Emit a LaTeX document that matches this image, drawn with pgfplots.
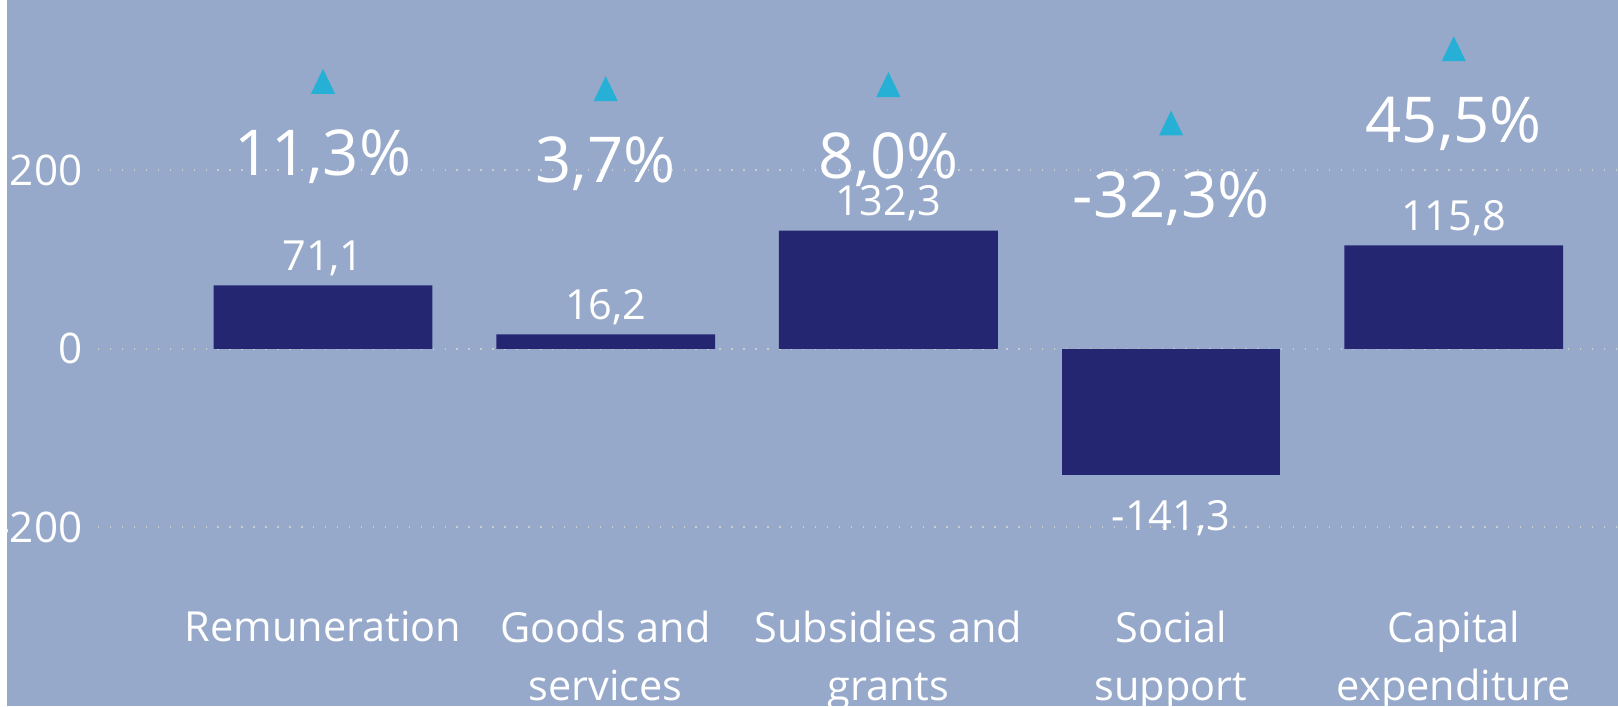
\documentclass[border=0pt]{standalone}
\usepackage{fontspec}
\setmainfont{Open Sans}
\usepackage{pgfplots}
\pgfplotsset{compat=1.18}

\definecolor{bgblue}{HTML}{96A9CA}
\definecolor{barnavy}{HTML}{242672}
\definecolor{tricyan}{HTML}{26B0D6}
\definecolor{gridc}{HTML}{CACBCB}

\begin{document}
\begin{tikzpicture}
\useasboundingbox (0,0) rectangle (161.8mm,70.6mm);
\fill[bgblue] (0,0) rectangle (161.8mm,70.6mm);
\fill[white] (0,0) rectangle (0.7mm,70.6mm);

% bars: change in amount
\begin{axis}[
    at={(9.8mm,0mm)}, anchor=south west,
    scale only axis, width=152mm, height=70.6mm,
    xmin=-0.796, xmax=4.581,
    ymin=-400.2, ymax=390.8,
    clip=false,
    axis line style={draw=none},
    major tick length=0pt,
    ytick={-200,0,200},
    ymajorgrids,
    grid style={gridc, line width=0.6pt, dash pattern=on 0.4pt off 3pt},
    /pgf/number format/assume math mode=true,
    yticklabel style={font=\fontsize{12}{14}\selectfont, text=white, anchor=east, inner sep=0pt, xshift=-1.5mm},
    xtick={0,1,2,3,4},
    xticklabels={Remuneration, {Goods and\\services}, {Subsidies and\\grants}, {Social\\support}, {Capital\\expenditure}},
    xticklabel style={font=\fontsize{11.8}{16.5}\selectfont, text=white, align=center, anchor=north, inner sep=0pt, yshift=9.6mm},
    ybar, bar width=21.88mm,
]
\addplot[fill=barnavy, draw=none, bar shift=0pt,
    nodes near coords={\pgfmathprintnumber[use comma,fixed,fixed zerofill,precision=1,assume math mode=true]{\pgfplotspointmeta}},
    nodes near coords style={font=\fontsize{11.8}{14}\selectfont, text=white, anchor=base, yshift=1.5mm}]
    coordinates {(0,71.1) (1,16.2) (2,132.3) (4,115.8)};
\addplot[fill=barnavy, draw=none, bar shift=0pt,
    nodes near coords={\pgfmathprintnumber[use comma,fixed,fixed zerofill,precision=1,assume math mode=true]{\pgfplotspointmeta}},
    nodes near coords style={font=\fontsize{11.8}{14}\selectfont, text=white, anchor=base, yshift=-5.6mm}]
    coordinates {(3,-141.3)};
\end{axis}

% triangles: percentage change
\begin{axis}[
    at={(9.8mm,0mm)}, anchor=south west,
    scale only axis, width=152mm, height=70.6mm,
    xmin=-0.796, xmax=4.581,
    ymin=-644.4, ymax=95.3,
    hide axis, clip=false,
]
\addplot[only marks, mark=triangle*, mark size=3.6pt, color=tricyan,
    mark options={yscale=1.2, yshift=-0.45mm},
    nodes near coords={\pgfmathprintnumber[use comma,fixed,fixed zerofill,precision=1,assume math mode=true]{\pgfplotspointmeta}\%},
    nodes near coords style={font=\fontsize{18}{22}\selectfont, text=white, anchor=base, yshift=-9mm}]
    coordinates {(0,11.3) (1,3.7) (2,8.0) (3,-32.3) (4,45.5)};
\end{axis}
\end{tikzpicture}
\end{document}
